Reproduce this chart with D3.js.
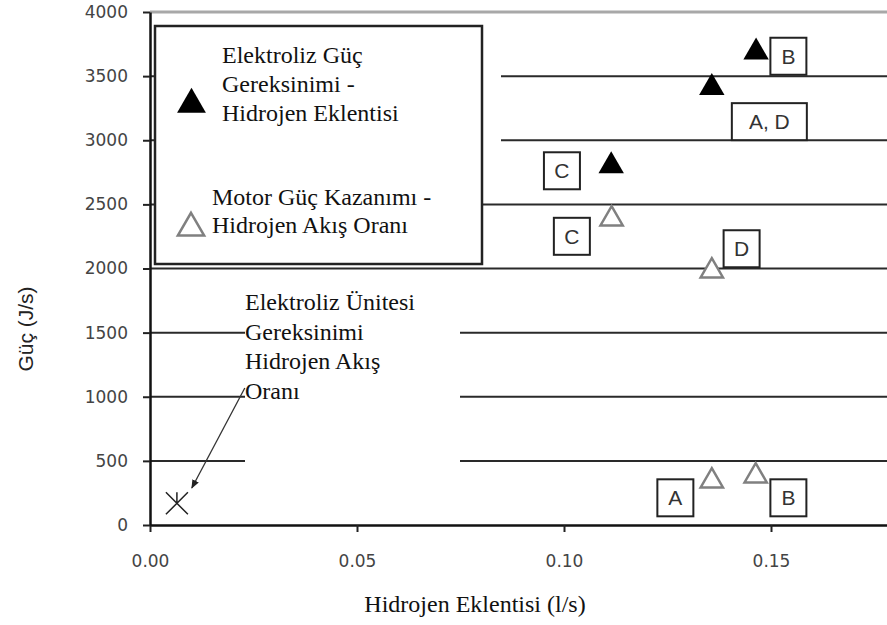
<!DOCTYPE html>
<html>
<head>
<meta charset="utf-8">
<script src="https://cdn.jsdelivr.net/npm/d3@7"></script>
<style>
  body { margin: 0; background: #fff; }
  svg { display: block; }
</style>
</head>
<body>
<div id="chart"></div>
<script>
// values
var xTicks = [0, 0.05, 0.10, 0.15];
var yTicks = [0, 500, 1000, 1500, 2000, 2500, 3000, 3500, 4000];

// Elektroliz Güç Gereksinimi - Hidrojen Eklentisi (dolu üçgen)
var elekX = [0.1114, 0.1357, 0.1464];
var elekY = [2800, 3410, 3686];

// Motor Güç Kazanımı - Hidrojen Akış Oranı (boş üçgen)
var motorX = [0.1115, 0.1357, 0.1357, 0.1463];
var motorY = [2386, 1980, 343, 382];

// Elektroliz Ünitesi Gereksinimi (yıldız)
var uniteX = [0.0065];
var uniteY = [169];

// harf kutuları
var boxText = ["B", "A, D", "C", "C", "D", "A", "B"];
var boxX = [0.1542, 0.1496, 0.0995, 0.1019, 0.1429, 0.1269, 0.1542];
var boxY = [3655, 3145, 2762, 2251, 2154, 212, 212];

var legend1 = ["Elektroliz Güç", "Gereksinimi -", "Hidrojen Eklentisi"];
var legend2 = ["Motor Güç Kazanımı -", "Hidrojen Akış Oranı"];
var noteLines = ["Elektroliz Ünitesi", "Gereksinimi", "Hidrojen Akış", "Oranı"];

// arrow from note to the star (data units)
var arrowFrom = [0.0229, 1068];
var arrowTo = [0.0101, 288];

var W = 887, H = 625;
var serif = "'Liberation Serif', 'Times New Roman', serif";
var sans = "'Liberation Sans', Arial, sans-serif";

var svg = d3.select("#chart")
  .append("svg")
  .attr("width", W)
  .attr("height", H);

var x = d3.scaleLinear().domain([0, 0.18]).range([150, 895.2]);
var y = d3.scaleLinear().domain([0, 4000]).range([525, 12]);

svg.append("defs").append("marker")
  .attr("id", "ok")
  .attr("viewBox", "0 0 10 10")
  .attr("refX", 9).attr("refY", 5)
  .attr("markerWidth", 9).attr("markerHeight", 9)
  .attr("markerUnits", "userSpaceOnUse")
  .attr("orient", "auto")
  .append("path")
  .attr("d", "M0,1L10,5L0,9z")
  .attr("fill", "#222");

// gridlines
svg.append("g")
  .selectAll("line")
  .data(yTicks.filter(d => d > 0))
  .enter()
  .append("line")
    .attr("x1", x(0)).attr("x2", W)
    .attr("y1", d => y(d)).attr("y2", d => y(d))
    .attr("stroke", d => d === 4000 ? "#a8a8a8" : "#2a2a2a")
    .attr("stroke-width", d => d === 4000 ? 3 : 2);

// white text frames that hide parts of the gridlines
svg.append("rect").attr("x", 157).attr("y", 55).attr("width", 344).attr("height", 110).attr("fill", "#fff");
svg.append("rect").attr("x", 245).attr("y", 285).attr("width", 215).attr("height", 190).attr("fill", "#fff");

// axes
var xAxis = svg.append("g")
  .attr("transform", `translate(0,${y(0)})`)
  .call(d3.axisBottom(x).tickValues(xTicks).tickSize(7).tickSizeOuter(0).tickPadding(23).tickFormat(d3.format(".2f")));

var yAxis = svg.append("g")
  .attr("transform", `translate(${x(0)},0)`)
  .call(d3.axisLeft(y).tickValues(yTicks).tickSize(7).tickSizeOuter(0).tickPadding(15).tickFormat(d3.format("d")));

[xAxis, yAxis].forEach(a => {
  a.select(".domain").attr("stroke", "#111").attr("stroke-width", 2.5);
  a.selectAll(".tick line").attr("stroke", "#222").attr("stroke-width", 2);
  a.selectAll(".tick text")
    .attr("font-family", "'DejaVu Sans', Verdana, sans-serif")
    .attr("font-size", 17)
    .attr("fill", "#444");
});

// legend
var leg = svg.append("g");
leg.append("rect")
  .attr("x", 155).attr("y", 26).attr("width", 327).attr("height", 238)
  .attr("fill", "#fff").attr("stroke", "#222").attr("stroke-width", 2.5);
leg.append("path")
  .attr("transform", "translate(191.5,104.5)")
  .attr("d", d3.symbol().type(d3.symbolTriangle).size(360)())
  .attr("fill", "#000");
leg.append("path")
  .attr("transform", "translate(191,228)")
  .attr("d", d3.symbol().type(d3.symbolTriangle).size(300)())
  .attr("fill", "#fff").attr("stroke", "#808080").attr("stroke-width", 2.5);
leg.append("text")
  .attr("font-family", serif).attr("font-size", 24).attr("fill", "#111")
  .selectAll("tspan")
  .data(legend1)
  .enter()
  .append("tspan")
    .attr("x", 222)
    .attr("y", (d, i) => 63 + i * 29)
    .text(d => d);
leg.append("text")
  .attr("font-family", serif).attr("font-size", 24).attr("fill", "#111")
  .selectAll("tspan")
  .data(legend2)
  .enter()
  .append("tspan")
    .attr("x", 212)
    .attr("y", (d, i) => 205 + i * 28)
    .text(d => d);

// note for the star
svg.append("text")
  .attr("font-family", serif).attr("font-size", 24).attr("fill", "#111")
  .selectAll("tspan")
  .data(noteLines)
  .enter()
  .append("tspan")
    .attr("x", 245)
    .attr("y", (d, i) => 310 + i * 29.7)
    .text(d => d);

svg.append("line")
  .attr("x1", x(arrowFrom[0])).attr("y1", y(arrowFrom[1]))
  .attr("x2", x(arrowTo[0])).attr("y2", y(arrowTo[1]))
  .attr("stroke", "#333").attr("stroke-width", 1.3)
  .attr("marker-end", "url(#ok)");

// points
svg.append("g")
  .selectAll("path")
  .data(elekX.map((d, i) => [d, elekY[i]]))
  .enter()
  .append("path")
    .attr("transform", d => `translate(${x(d[0])},${y(d[1])})`)
    .attr("d", d3.symbol().type(d3.symbolTriangle).size(280)())
    .attr("fill", "#000");

svg.append("g")
  .selectAll("path")
  .data(motorX.map((d, i) => [d, motorY[i]]))
  .enter()
  .append("path")
    .attr("transform", d => `translate(${x(d[0])},${y(d[1])})`)
    .attr("d", d3.symbol().type(d3.symbolTriangle).size(215)())
    .attr("fill", "#fff")
    .attr("stroke", "#808080")
    .attr("stroke-width", 2.5);

svg.append("g")
  .selectAll("path")
  .data(uniteX.map((d, i) => [d, uniteY[i]]))
  .enter()
  .append("path")
    .attr("transform", d => `translate(${x(d[0])},${y(d[1])})`)
    .attr("d", "M-11,-11L11,11M-11,11L11,-11M0,-11L0,0")
    .attr("fill", "none")
    .attr("stroke", "#222")
    .attr("stroke-width", 1.5);

// letter boxes
var boxes = svg.append("g")
  .selectAll("g")
  .data(boxText.map((d, i) => ({t: d, x: boxX[i], y: boxY[i]})))
  .enter()
  .append("g")
    .attr("transform", d => `translate(${x(d.x)},${y(d.y)})`);
boxes.append("rect")
  .attr("x", d => d.t.length > 1 ? -37.5 : -18)
  .attr("y", -18.5)
  .attr("width", d => d.t.length > 1 ? 75 : 36)
  .attr("height", 37)
  .attr("fill", "#fff").attr("stroke", "#222").attr("stroke-width", 2);
boxes.append("text")
  .attr("text-anchor", "middle")
  .attr("dy", "0.36em")
  .attr("font-family", sans).attr("font-size", 21).attr("fill", "#333")
  .text(d => d.t);

// axis titles
svg.append("text")
  .attr("x", 475).attr("y", 612)
  .attr("text-anchor", "middle")
  .attr("font-family", serif).attr("font-size", 24).attr("fill", "#111")
  .text("Hidrojen Eklentisi (l/s)");

svg.append("text")
  .attr("transform", "translate(26,329) rotate(-90)")
  .attr("text-anchor", "middle")
  .attr("dy", "0.35em")
  .attr("font-family", sans).attr("font-size", 21).attr("fill", "#222")
  .text("Güç (J/s)");
</script>
</body>
</html>
